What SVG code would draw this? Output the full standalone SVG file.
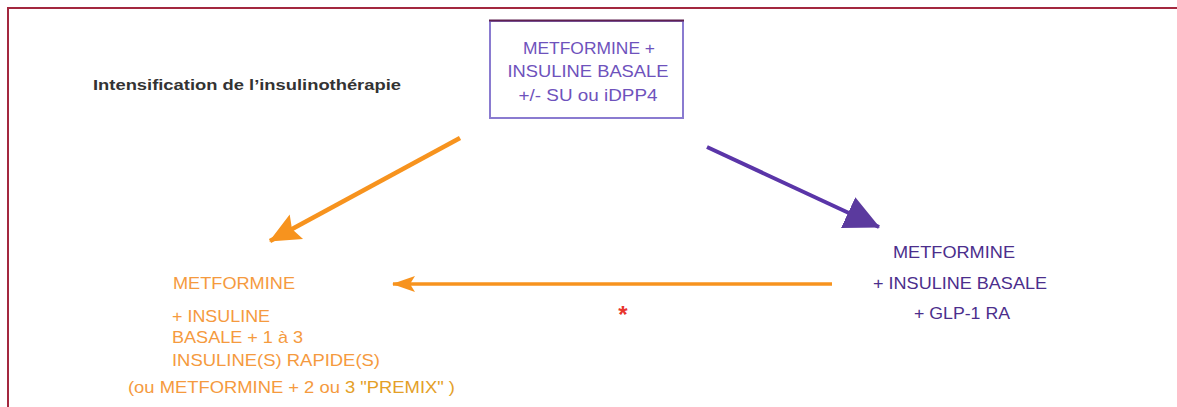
<svg xmlns="http://www.w3.org/2000/svg" width="1177" height="407" viewBox="0 0 1177 407">
  <style>
    .t { font-family: "Liberation Sans", Arial, sans-serif; font-size: 17px; }
    .box { font-family: "Liberation Sans", Arial, sans-serif; font-size: 17px; fill: #6e52bc; text-anchor: middle; }
    .or { fill: #f59a3e; }
    .pu { fill: #4b2e8c; }
    .title { font-family: "Liberation Sans", Arial, sans-serif; font-size: 15px; font-weight: bold; fill: #333333; }
  </style>
  <defs>
    <marker id="headOrBig" markerUnits="userSpaceOnUse" viewBox="0 0 32 32" refX="30" refY="16" markerWidth="32" markerHeight="32" orient="auto">
      <path d="M0,2 L31,16 L0,30 L5,16 Z" fill="#f7931e"/>
    </marker>
    <marker id="headOrSmall" markerUnits="userSpaceOnUse" viewBox="0 0 24 18" refX="22" refY="9" markerWidth="24" markerHeight="18" orient="auto">
      <path d="M0,1 L23,9 L0,17 L5,9 Z" fill="#f7931e"/>
    </marker>
    <marker id="headPu" markerUnits="userSpaceOnUse" viewBox="0 0 36 36" refX="34" refY="18" markerWidth="36" markerHeight="36" orient="auto">
      <path d="M0,1 L35,18 L0,35 Z" fill="#5b3a9e"/>
    </marker>
  </defs>

  <rect width="1177" height="407" fill="#ffffff"/>

  <g id="frame" fill="none" stroke="#a3283f" stroke-width="2">
    <path d="M8,407 L8,8 L1177,8"/>
  </g>

  <g id="title">
    <text class="title" x="93" y="90" textLength="308" lengthAdjust="spacingAndGlyphs">Intensification de l’insulinothérapie</text>
  </g>

  <g id="node-top">
    <rect x="490" y="21" width="193" height="97" fill="#ffffff" stroke="#8a7bd0" stroke-width="2"/>
    <line x1="489" y1="20.5" x2="684" y2="20.5" stroke="#5e2050" stroke-width="2"/>
    <text class="box" x="589" y="54" textLength="132" lengthAdjust="spacingAndGlyphs">METFORMINE +</text>
    <text class="box" x="588" y="77" textLength="161" lengthAdjust="spacingAndGlyphs">INSULINE BASALE</text>
    <text class="box" x="588" y="101" textLength="139" lengthAdjust="spacingAndGlyphs">+/- SU ou iDPP4</text>
  </g>

  <g id="node-left" class="t or">
    <text x="173" y="289" textLength="122" lengthAdjust="spacingAndGlyphs">METFORMINE</text>
    <text x="172" y="322" textLength="98" lengthAdjust="spacingAndGlyphs">+ INSULINE</text>
    <text x="172" y="343" textLength="131" lengthAdjust="spacingAndGlyphs">BASALE + 1 à 3</text>
    <text x="172" y="366" textLength="208" lengthAdjust="spacingAndGlyphs">INSULINE(S)  RAPIDE(S)</text>
    <text x="128" y="393" textLength="327" lengthAdjust="spacingAndGlyphs">(ou METFORMINE + 2 ou <tspan fill="#e4a027">3 "PREMIX" )</tspan></text>
  </g>

  <g id="node-right" class="t pu">
    <text x="893" y="258" textLength="122" lengthAdjust="spacingAndGlyphs">METFORMINE</text>
    <text x="873" y="289" textLength="174" lengthAdjust="spacingAndGlyphs">+ INSULINE BASALE</text>
    <text x="914" y="319" textLength="96" lengthAdjust="spacingAndGlyphs">+ GLP-1 RA</text>
  </g>

  <g id="connectors" fill="none">
    <line x1="460" y1="138" x2="270" y2="241" stroke="#f7931e" stroke-width="4.5" marker-end="url(#headOrBig)"/>
    <line x1="707" y1="147" x2="879" y2="227" stroke="#5a35a8" stroke-width="4" marker-end="url(#headPu)"/>
    <line x1="832" y1="284" x2="393" y2="284" stroke="#f7931e" stroke-width="3.5" marker-end="url(#headOrSmall)"/>
    <text x="623" y="323" font-family="Liberation Sans, Arial, sans-serif" font-size="24" font-weight="bold" fill="#e8352d" text-anchor="middle">*</text>
  </g>
</svg>
